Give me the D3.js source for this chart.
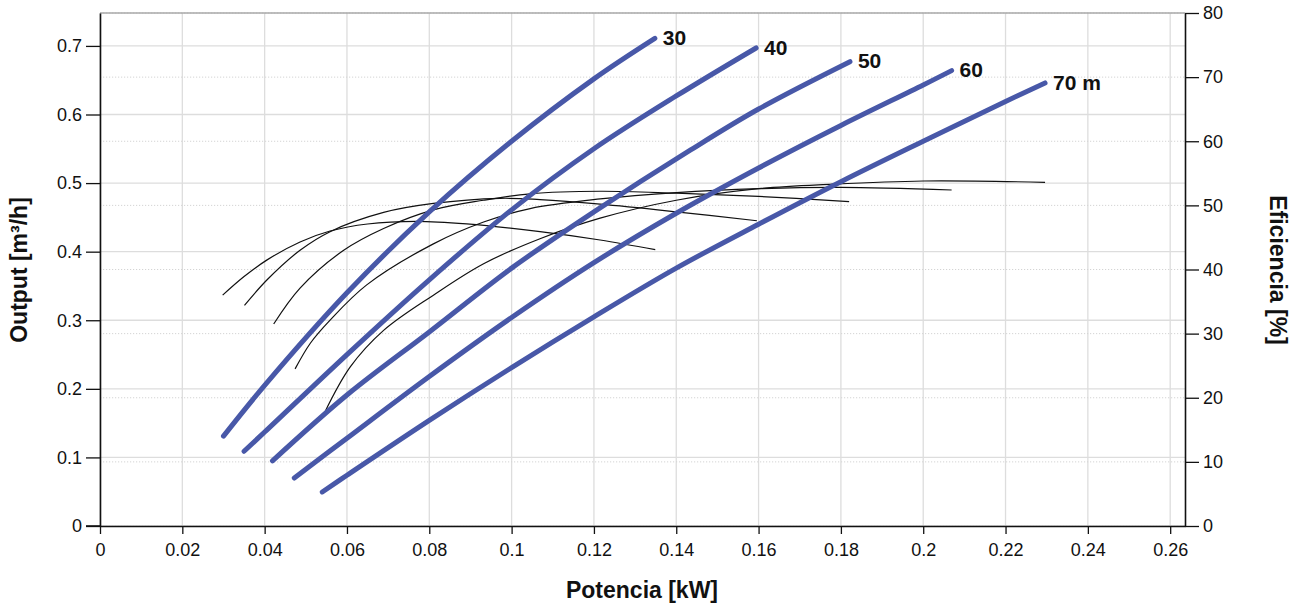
<!DOCTYPE html>
<html>
<head>
<meta charset="utf-8">
<script src="https://cdn.jsdelivr.net/npm/d3@7"></script>
<style>
  html, body { margin: 0; padding: 0; background: #fff; }
  svg { display: block; font-family: "Liberation Sans", Arial, sans-serif; }
</style>
</head>
<body>
<div id="viz"></div>
<script>
// Pump curves: output vs power (blue, left axis) and efficiency vs power (black, right axis)

const heads = [30, 40, 50, 60, 70];
const headLabels = ['30', '40', '50', '60', '70 m'];

// output curves [kW] -> [m3/h]
const power30 = [0.030, 0.040, 0.060, 0.080, 0.100, 0.120, 0.1348];
const output30 = [0.131, 0.205, 0.340, 0.458, 0.561, 0.652, 0.711];
const power40 = [0.035, 0.040, 0.060, 0.080, 0.100, 0.120, 0.140, 0.1594];
const output40 = [0.109, 0.137, 0.250, 0.359, 0.461, 0.550, 0.627, 0.697];
const power50 = [0.0419, 0.060, 0.080, 0.100, 0.120, 0.1434, 0.160, 0.1822];
const output50 = [0.095, 0.191, 0.283, 0.376, 0.458, 0.548, 0.608, 0.677];
const power60 = [0.0472, 0.060, 0.080, 0.100, 0.120, 0.140, 0.160, 0.180, 0.200, 0.2069];
const output60 = [0.070, 0.128, 0.218, 0.304, 0.384, 0.456, 0.522, 0.584, 0.643, 0.664];
const power70 = [0.054, 0.060, 0.080, 0.100, 0.120, 0.140, 0.160, 0.180, 0.200, 0.220, 0.2296];
const output70 = [0.0496, 0.074, 0.154, 0.231, 0.305, 0.376, 0.440, 0.502, 0.561, 0.619, 0.646];

// efficiency curves [kW] -> [%]
const effPower30 = [0.0298, 0.035, 0.0406, 0.0486, 0.0559, 0.065, 0.077, 0.0891, 0.1069, 0.1215, 0.1349];
const eff30 = [36.0, 38.9, 41.5, 44.3, 46.0, 47.1, 47.5, 47.1, 45.9, 44.6, 43.1];
const effPower40 = [0.0351, 0.0406, 0.0486, 0.0559, 0.0689, 0.081, 0.0972, 0.1069, 0.1215, 0.140, 0.1596];
const eff40 = [34.4, 38.4, 43.0, 45.9, 48.9, 50.3, 51.1, 50.9, 50.2, 49.0, 47.6];
const effPower50 = [0.0422, 0.0486, 0.0592, 0.0689, 0.081, 0.0932, 0.1045, 0.1215, 0.140, 0.160, 0.182];
const eff50 = [31.5, 37.1, 43.0, 46.4, 49.3, 50.8, 51.8, 52.2, 51.9, 51.4, 50.6];
const effPower60 = [0.0474, 0.0511, 0.0559, 0.0648, 0.081, 0.0932, 0.1045, 0.1215, 0.140, 0.160, 0.180, 0.2069];
const eff60 = [24.5, 28.5, 32.1, 37.6, 44.0, 47.4, 49.5, 51.0, 52.0, 52.6, 52.8, 52.4];
const effPower70 = [0.0545, 0.0608, 0.0689, 0.081, 0.0932, 0.1069, 0.1215, 0.140, 0.160, 0.178, 0.200, 0.2296];
const eff70 = [17.6, 24.8, 30.5, 36.0, 40.9, 44.8, 48.0, 50.8, 52.6, 53.3, 53.8, 53.6];

const xTicks = [0, 0.02, 0.04, 0.06, 0.08, 0.1, 0.12, 0.14, 0.16, 0.18, 0.2, 0.22, 0.24, 0.26];
const yTicks = [0, 0.1, 0.2, 0.3, 0.4, 0.5, 0.6, 0.7];
const effTicks = [0, 10, 20, 30, 40, 50, 60, 70, 80];

const outputSeries = [
  {head: heads[0], label: headLabels[0], x: power30, y: output30},
  {head: heads[1], label: headLabels[1], x: power40, y: output40},
  {head: heads[2], label: headLabels[2], x: power50, y: output50},
  {head: heads[3], label: headLabels[3], x: power60, y: output60},
  {head: heads[4], label: headLabels[4], x: power70, y: output70},
];
const effSeries = [
  {head: heads[0], x: effPower30, y: eff30},
  {head: heads[1], x: effPower40, y: eff40},
  {head: heads[2], x: effPower50, y: eff50},
  {head: heads[3], x: effPower60, y: eff60},
  {head: heads[4], x: effPower70, y: eff70},
];

let dimensions = {
  width: 1306,
  height: 603,
  margin: {top: 13, right: 121, bottom: 77, left: 100},
}
dimensions.boundedWidth = dimensions.width - dimensions.margin.left - dimensions.margin.right
dimensions.boundedHeight = dimensions.height - dimensions.margin.top - dimensions.margin.bottom

const svg = d3.select('#viz')
  .append('svg')
  .attr('width', dimensions.width)
  .attr('height', dimensions.height);

const bounds = svg.append('g')
  .attr('transform', `translate(${dimensions.margin.left},${dimensions.margin.top})`);

// scales
const xScale = d3.scaleLinear().domain([0, 0.2636]).range([0, dimensions.boundedWidth]);
const yScale = d3.scaleLinear().domain([0, 0.748]).range([dimensions.boundedHeight, 0]);
const effScale = d3.scaleLinear().domain([0, 80]).range([dimensions.boundedHeight, 0]);

// grid
const grid = bounds.append('g');
grid.selectAll('.vgrid')
  .data(xTicks)
  .join('line')
  .attr('x1', d => xScale(d)).attr('x2', d => xScale(d))
  .attr('y1', 0).attr('y2', dimensions.boundedHeight)
  .style('stroke', '#dddddd').style('stroke-width', 1.3);
grid.selectAll('.egrid')
  .data(effTicks)
  .join('line')
  .attr('x1', 0).attr('x2', dimensions.boundedWidth)
  .attr('y1', d => effScale(d)).attr('y2', d => effScale(d))
  .style('stroke', '#d4d4d4').style('stroke-width', 1).style('stroke-dasharray', '1.2,1.8');
grid.selectAll('.hgrid')
  .data(yTicks)
  .join('line')
  .attr('x1', 0).attr('x2', dimensions.boundedWidth)
  .attr('y1', d => yScale(d)).attr('y2', d => yScale(d))
  .style('stroke', '#dddddd').style('stroke-width', 1.3);

// top border
bounds.append('line')
  .attr('x1', 0).attr('x2', dimensions.boundedWidth)
  .attr('y1', 0).attr('y2', 0)
  .style('stroke', '#a8a8a8').style('stroke-width', 1.3);

// curves
const effLine = d3.line()
  .x(d => xScale(d[0]))
  .y(d => effScale(d[1]))
  .curve(d3.curveCatmullRom.alpha(0.5));

bounds.append('g')
  .selectAll('path')
  .data(effSeries)
  .join('path')
  .attr('d', s => effLine(s.x.map((v, i) => [v, s.y[i]])))
  .style('fill', 'none')
  .style('stroke', '#111')
  .style('stroke-width', 1.2);

const outLine = d3.line()
  .x(d => xScale(d[0]))
  .y(d => yScale(d[1]))
  .curve(d3.curveCatmullRom.alpha(0.5));

bounds.append('g')
  .selectAll('path')
  .data(outputSeries)
  .join('path')
  .attr('d', s => outLine(s.x.map((v, i) => [v, s.y[i]])))
  .style('fill', 'none')
  .style('stroke', '#4858a8')
  .style('stroke-width', 5)
  .style('stroke-linecap', 'round');

bounds.append('g')
  .selectAll('text')
  .data(outputSeries)
  .join('text')
  .attr('x', s => xScale(s.x[s.x.length - 1]) + 8)
  .attr('y', s => yScale(s.y[s.y.length - 1]) + 1)
  .attr('dominant-baseline', 'middle')
  .style('font-size', '21px')
  .style('font-weight', 'bold')
  .style('fill', '#111')
  .text(s => s.label);

// axes
const fmt = d => String(+d.toFixed(2));

const xAxis = bounds.append('g')
  .attr('transform', `translate(0,${dimensions.boundedHeight})`)
  .call(d3.axisBottom(xScale).tickValues(xTicks).tickFormat(fmt).tickSize(8).tickSizeOuter(0).tickPadding(9));

const yAxis = bounds.append('g')
  .call(d3.axisLeft(yScale).tickValues(yTicks).tickFormat(fmt).tickSize(14).tickSizeOuter(0).tickPadding(4));

const effAxis = bounds.append('g')
  .attr('transform', `translate(${dimensions.boundedWidth},0)`)
  .call(d3.axisRight(effScale).tickValues(effTicks).tickSize(14).tickSizeOuter(0).tickPadding(4));

[xAxis, yAxis, effAxis].forEach(a => {
  a.selectAll('text')
    .style('font-size', '18px')
    .style('font-family', '"Liberation Sans", Arial, sans-serif')
    .style('fill', '#111');
  a.selectAll('line').style('stroke', '#111').style('stroke-width', 1.3);
  a.select('.domain').style('stroke', '#111').style('stroke-width', 1.6);
});

// extend bottom axis line under the left ticks
bounds.append('line')
  .attr('x1', -14).attr('x2', 0)
  .attr('y1', dimensions.boundedHeight).attr('y2', dimensions.boundedHeight)
  .style('stroke', '#111').style('stroke-width', 1.6);

// axis titles
svg.append('text')
  .attr('transform', 'translate(27,270) rotate(-90)')
  .attr('text-anchor', 'middle')
  .style('font-size', '23px')
  .style('font-weight', 'bold')
  .style('fill', '#111')
  .text('Output [m³/h]');

svg.append('text')
  .attr('transform', 'translate(1270,270) rotate(90)')
  .attr('text-anchor', 'middle')
  .style('font-size', '23px')
  .style('font-weight', 'bold')
  .style('fill', '#111')
  .text('Eficiencia [%]');

svg.append('text')
  .attr('x', 642)
  .attr('y', 598)
  .attr('text-anchor', 'middle')
  .style('font-size', '23px')
  .style('font-weight', 'bold')
  .style('fill', '#111')
  .text('Potencia [kW]');
</script>
</body>
</html>
